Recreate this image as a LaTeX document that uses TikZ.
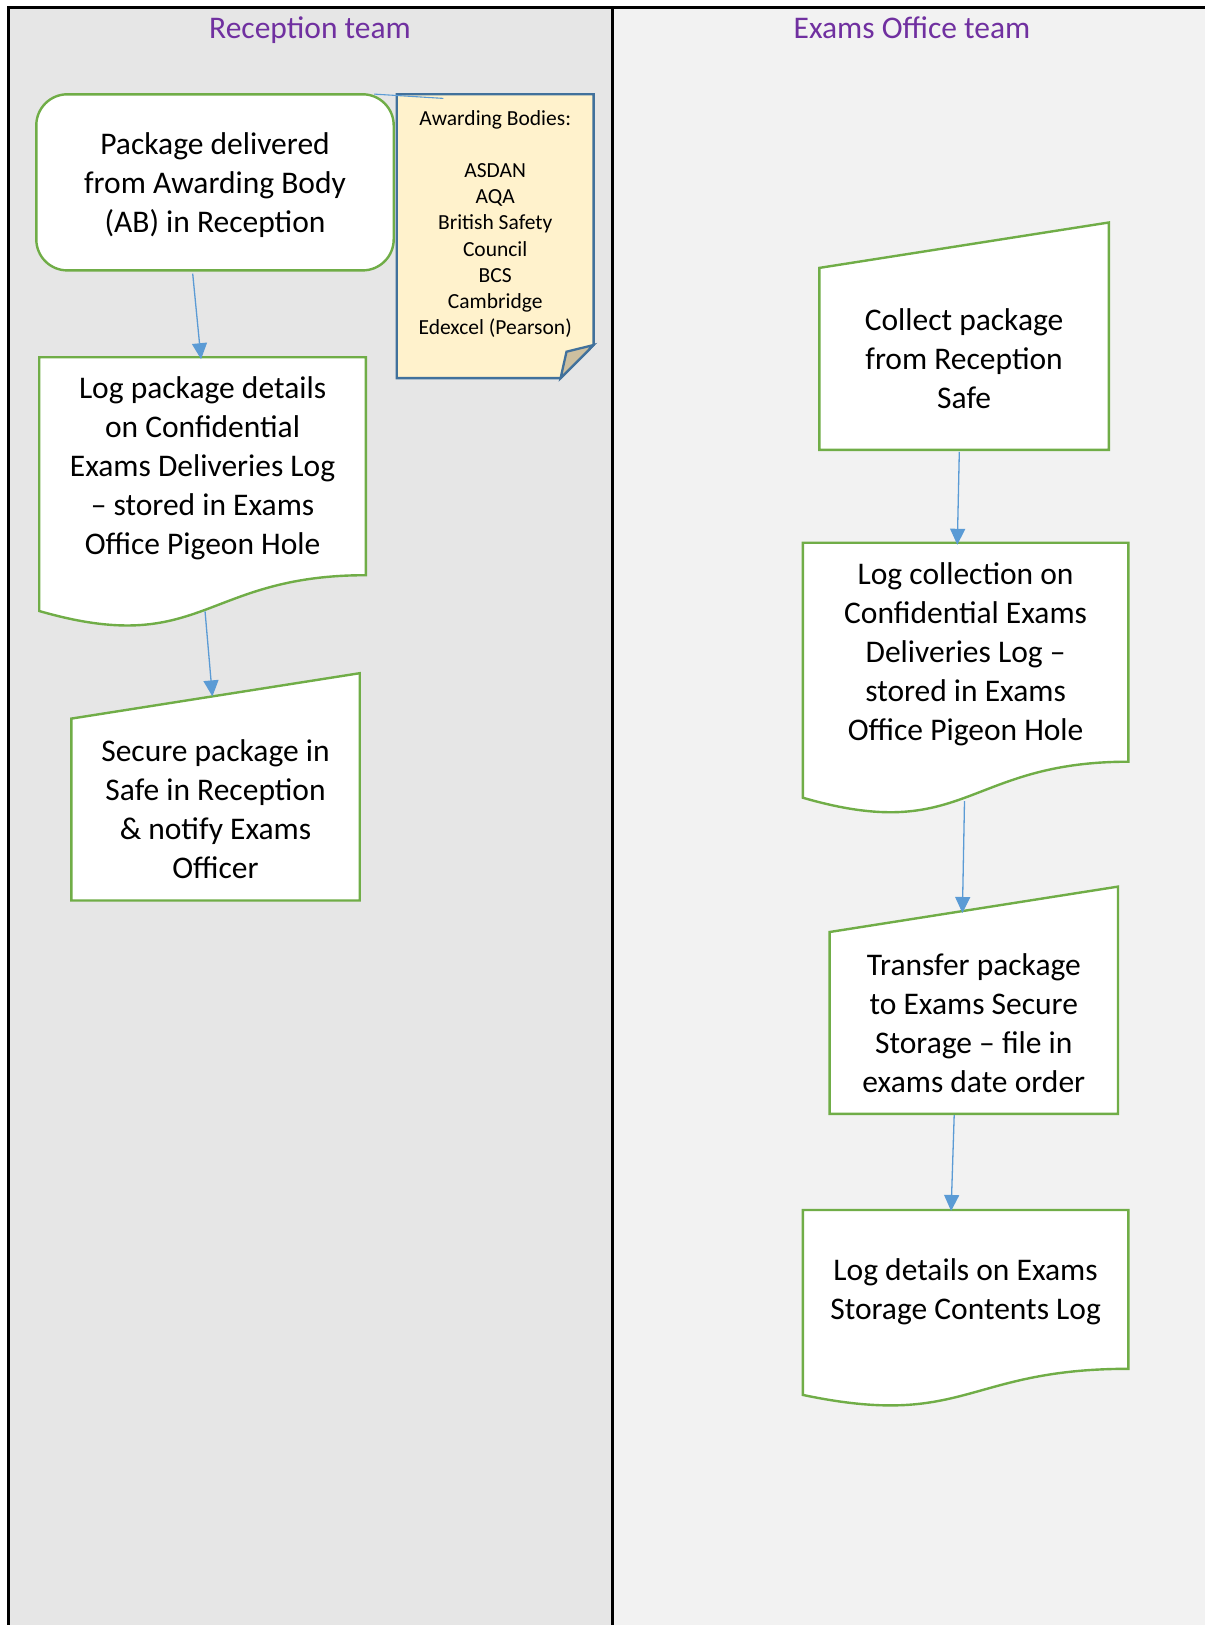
\documentclass[tikz,border=0pt]{standalone}
\usepackage{fontspec}
\setmainfont{Carlito}
\usetikzlibrary{calc,arrows.meta,backgrounds}
\definecolor{laneA}{HTML}{E6E6E6}
\definecolor{laneB}{HTML}{F2F2F2}
\definecolor{titlec}{HTML}{7030A0}
\definecolor{boxgreen}{HTML}{70AD47}
\definecolor{arrowblue}{HTML}{5B9BD5}
\definecolor{noteblue}{HTML}{41719C}
\definecolor{notefill}{HTML}{FFF2CC}
\definecolor{foldfill}{HTML}{CDBF9F}
% fixed line struts so that text blocks sit like the reference
\newcommand\ls{\rule[-8.85pt]{0pt}{39pt}}
\newcommand\ns{\rule[-5.95pt]{0pt}{26.2pt}}
\tikzset{
  boxtext/.style={font=\fontsize{31.5}{39}\selectfont, align=center, inner sep=0pt, text=black},
  notetext/.style={font=\fontsize{21.5}{26.2}\selectfont, align=center, inner sep=0pt, text=black},
  lanetitle/.style={font=\fontsize{31.5}{39}\selectfont, text=titlec, inner sep=0pt, anchor=base},
  boxline/.style={draw=boxgreen, line width=2.4pt, fill=white, line join=miter},
  flow/.style={draw=arrowblue, line width=1.3pt, -{Triangle[length=16pt,width=15pt]}},
  laneline/.style={draw=black, line width=2.4pt}
}
\begin{document}
\begin{tikzpicture}[x=1pt,y=-1pt]
\useasboundingbox (0,0) rectangle (1205,1625);

% ---------- nodes ----------
\node[lanetitle] (t1) at (310,38.3) {Reception team};
\node[lanetitle] (t2) at (912,38.3) {Exams Office team};

\node[boxtext, draw=boxgreen, line width=2.4pt, fill=white, rounded corners=31pt,
      minimum width=357.4pt, minimum height=176.1pt] (b1) at (215,182.35)
  {\ls Package delivered\\\ls from Awarding Body\\\ls (AB) in Reception};

\node[notetext] (note) at (495.2,222.65)
  {\ns Awarding Bodies:\\\ns\\\ns ASDAN\\\ns AQA\\\ns British Safety\\\ns Council\\\ns BCS\\\ns Cambridge\\\ns Edexcel (Pearson)};

\node[boxtext, minimum width=326.3pt, minimum height=217.6pt] (b3) at (202.55,466.2)
  {\ls Log package details\\\ls on Confidential\\\ls Exams Deliveries Log\\\ls – stored in Exams\\\ls Office Pigeon Hole};

\node[boxtext, minimum width=288pt, minimum height=181.5pt] (b4) at (215.5,809.55)
  {\ls Secure package in\\\ls Safe in Reception\\\ls \& notify Exams\\\ls Officer};

\node[boxtext, minimum width=289.1pt, minimum height=181.5pt] (b5) at (964.05,358.85)
  {\ls Collect package\\\ls from Reception\\\ls Safe};

\node[boxtext, minimum width=325.2pt, minimum height=218.6pt] (b6) at (965.6,652.2)
  {\ls Log collection on\\\ls Confidential Exams\\\ls Deliveries Log –\\\ls stored in Exams\\\ls Office Pigeon Hole};

\node[boxtext, minimum width=288pt, minimum height=181.5pt] (b7) at (973.8,1022.95)
  {\ls Transfer package\\\ls to Exams Secure\\\ls Storage – file in\\\ls exams date order};

\node[boxtext, minimum width=325.2pt, minimum height=158.4pt] (b8) at (965.6,1289.4)
  {\ls Log details on Exams\\\ls Storage Contents Log};

% ---------- background: lanes and shapes ----------
\begin{scope}[on background layer]
  \fill[laneA] (8.3,7.3) rectangle (612.5,1625);
  \fill[laneB] (612.5,7.3) rectangle (1205,1625);
  \draw[laneline] (8.3,1625) -- (8.3,7.3) -- (1205,7.3);
  \draw[laneline] (612.5,7.3) -- (612.5,1625);

  % note with folded corner
  \draw[draw=noteblue, line width=2.3pt, fill=notefill, line join=miter]
    (396.8,94.3) -- (593.6,94.3) -- (593.6,345) -- (560.6,378.1) -- (396.8,378.1) -- cycle;
  \draw[draw=noteblue, line width=2.3pt, fill=foldfill, line join=miter]
    (560.6,378.1) -- (566.5,351.7) -- (593.6,345) -- cycle;

  % documents
  \draw[boxline] (b3.north west) -- (b3.north east) -- (b3.south east)
    .. controls (b3.south) and ($(b3.south)+(0,82.9)$) .. ($(b3.south west)+(0,35.8)$) -- cycle;
  \draw[boxline] (b6.north west) -- (b6.north east) -- (b6.south east)
    .. controls (b6.south) and ($(b6.south)+(0,83.3)$) .. ($(b6.south west)+(0,36.0)$) -- cycle;
  \draw[boxline] (b8.north west) -- (b8.north east) -- (b8.south east)
    .. controls (b8.south) and ($(b8.south)+(0,60.3)$) .. ($(b8.south west)+(0,26.1)$) -- cycle;

  % manual inputs
  \draw[boxline] (b4.north west) -- ($(b4.north east)+(0,-45.4)$) -- (b4.south east) -- (b4.south west) -- cycle;
  \draw[boxline] (b5.north west) -- ($(b5.north east)+(0,-45.4)$) -- (b5.south east) -- (b5.south west) -- cycle;
  \draw[boxline] (b7.north west) -- ($(b7.north east)+(0,-45.4)$) -- (b7.south east) -- (b7.south west) -- cycle;
\end{scope}

% callout line
\coordinate (calloutend) at (443.4,98.4);
\draw[arrowblue, line width=1.1pt] ($(b1.north east)+(-20.7,1)$) -- (calloutend);

% ---------- connectors ----------
\draw[flow] ($(b1.south)+(-22.3,2)$) -- ($(b3.north)+(-1.5,2)$);
\draw[flow] ($(b3.south)+(2.5,36.2)$) -- ($(b4.north)+(-3.1,-22.2)$);
\draw[flow] ($(b5.south)+(-4.75,2.1)$) -- ($(b6.north)+(-8.3,2.1)$);
\draw[flow] ($(b6.south)+(-1.1,39.3)$) -- ($(b7.north)+(-11.4,-19)$);
\draw[flow] ($(b7.south)+(-19.6,1.1)$) -- ($(b8.north)+(-14.5,1)$);
\end{tikzpicture}
\end{document}
